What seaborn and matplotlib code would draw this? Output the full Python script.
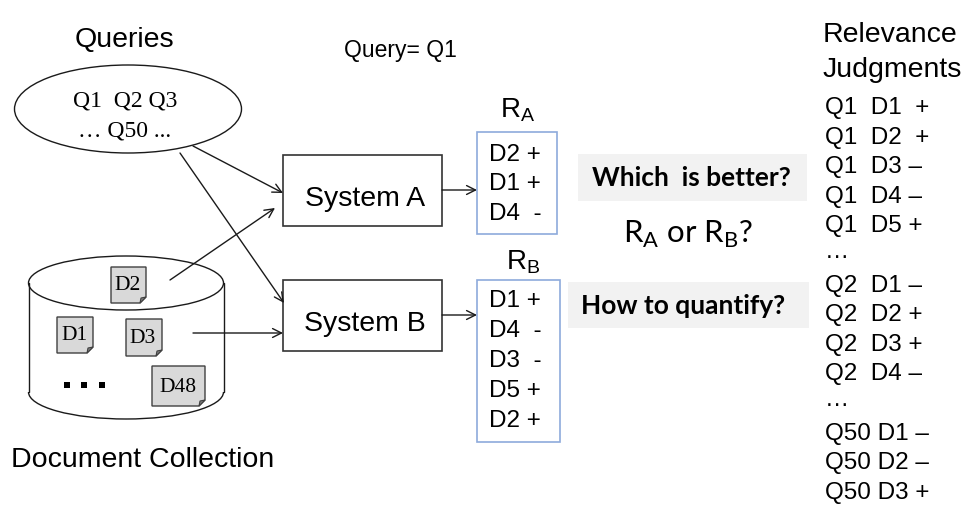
import numpy as np
import pandas as pd
import matplotlib
matplotlib.use("Agg")
import matplotlib.pyplot as plt
import seaborn as sns
from matplotlib.patches import Ellipse, Arc, Rectangle, Polygon

# -----------------------------------------------------------------
# diagram content
# -----------------------------------------------------------------
queries_title = "Queries"
query_lines = ["Q1  Q2 Q3", "\u2026 Q50 ..."]
query_now = "Query= Q1"
systems = ["System A", "System B"]
ra_docs = ["D2 +", "D1 +", "D4  -"]
rb_docs = ["D1 +", "D4  -", "D3  -", "D5 +", "D2 +"]
collection_docs = ["D2", "D1", "D3", "D48"]
collection_title = "Document Collection"
question_1 = "Which  is better?"
question_2 = "How to quantify?"
judg_title = ["Relevance", "Judgments"]
judgments = ["Q1  D1  +", "Q1  D2  +", "Q1  D3 \u2013", "Q1  D4 \u2013", "Q1  D5 +",
             "\u2026",
             "Q2  D1 \u2013", "Q2  D2 +", "Q2  D3 +", "Q2  D4 \u2013",
             "\u2026",
             "Q50 D1 \u2013", "Q50 D2 \u2013", "Q50 D3 +"]

sns.set_theme(style="white")
plt.rcParams['font.family'] = ['Liberation Sans', 'DejaVu Sans']
plt.rcParams['text.color'] = 'black'
plt.rcParams['mathtext.fontset'] = 'custom'
plt.rcParams['mathtext.rm'] = 'Liberation Sans'
plt.rcParams['mathtext.sf'] = 'Lato'

SANS = ['Liberation Sans', 'DejaVu Sans']
SERIF = ['Liberation Serif', 'DejaVu Serif']
CAL = ['Lato', 'DejaVu Sans']

fig = plt.figure(figsize=(9.74, 5.12), dpi=100)
ax = fig.add_axes([0, 0, 1, 1])

def arrow(x0, y0, x1, y1):
    ax.annotate("", xy=(x1, y1), xytext=(x0, y0),
                arrowprops=dict(arrowstyle='->', lw=1.0, color='#1a1a1a',
                                mutation_scale=16, shrinkA=0, shrinkB=0))

# --- dots inside the collection (drawn first, seaborn resets limits) ---
dots = pd.DataFrame({"x": [67, 84, 102], "y": [385, 385, 385]})
sns.scatterplot(data=dots, x="x", y="y", marker='s', s=24, color='black',
                linewidth=0, ax=ax, legend=False)
ax.set_xlim(0, 974)
ax.set_ylim(512, 0)
ax.axis('off')

# --- queries ---
ax.text(124, 40, queries_title, fontsize=20.5, family=SANS, ha='center', va='center')
ax.add_patch(Ellipse((128, 109), 227, 88, fill=False, ec='#1a1a1a', lw=1))
ax.text(125, 101, query_lines[0], fontsize=17, family=SERIF, ha='center', va='center')
ax.text(125, 131, query_lines[1], fontsize=17, family=SERIF, ha='center', va='center')
ax.text(400, 50, query_now, fontsize=16.5, family=SANS, ha='center', va='center')

# --- systems ---
sys_y = [155, 280]
for name, y in zip(systems, sys_y):
    ax.add_patch(Rectangle((283, y), 159, 71, fill=False, ec='#333333', lw=1.2))
    ax.text(365, y + 44, name, fontsize=20.5, family=SANS, ha='center', va='center')
    arrow(442, y + 35, 477, y + 35)

# --- document collection (cylinder) ---
cx, w, h = 126, 195, 54
ax.add_patch(Ellipse((cx, 283), w, h, fill=False, ec='#1a1a1a', lw=1))
ax.plot([cx - w / 2, cx - w / 2], [283, 392], color='#1a1a1a', lw=1)
ax.plot([cx + w / 2, cx + w / 2], [283, 392], color='#1a1a1a', lw=1)
ax.add_patch(Arc((cx, 392), w, h, theta1=0, theta2=180, ec='#1a1a1a', lw=1))

doc_boxes = [(111, 267, 35, 36), (57, 317, 36, 36), (126, 319, 36, 37), (152, 366, 53, 40)]
for lab, (x0, y0, bw, bh) in zip(collection_docs, doc_boxes):
    f = 6
    x1, y1 = x0 + bw, y0 + bh
    ax.add_patch(Polygon([(x0, y0), (x1, y0), (x1, y1 - f), (x1 - f, y1), (x0, y1)],
                         closed=True, fc='#d9d9d9', ec='#404040', lw=1))
    ax.add_patch(Polygon([(x1, y1 - f), (x1 - f, y1), (x1 - f + 1, y1 - f + 1)],
                         closed=True, fc='#808080', ec='#404040', lw=0.8))
    ax.text(x0 + bw / 2 - 1, y0 + bh / 2 + 1, lab, fontsize=15.5, family=SERIF,
            ha='center', va='center')

ax.text(143, 460, collection_title, fontsize=20.5, family=SANS, ha='center', va='center')

# --- arrows into systems ---
arrow(193, 146, 283, 193)
arrow(180, 153, 284, 303)
arrow(170, 280, 275, 208)
arrow(193, 333, 283, 333)

# --- result lists ---
ax.add_patch(Rectangle((477, 132), 80, 102, fill=False, ec='#8eaadb', lw=1.2))
ax.add_patch(Rectangle((477, 280), 83, 162, fill=False, ec='#8eaadb', lw=1.2))
ax.text(518, 110, r"R$_\mathrm{A}$", fontsize=20, family=SANS, ha='center', va='center')
ax.text(523, 262, r"R$_\mathrm{B}$", fontsize=20, family=SANS, ha='center', va='center')
for i, d in enumerate(ra_docs):
    ax.text(489, 155 + i * 29.5, d, fontsize=17.5, family=SANS, ha='left', va='center')
for i, d in enumerate(rb_docs):
    ax.text(489, 301 + i * 30, d, fontsize=17.5, family=SANS, ha='left', va='center')

# --- questions ---
ax.add_patch(Rectangle((578, 154), 229, 47, fc='#f2f2f2', ec='none'))
ax.text(691, 178, question_1, fontsize=19, family=CAL, weight='bold', ha='center', va='center')
ax.text(688, 234, r"R$_\mathsf{A}$ or R$_\mathsf{B}$?", fontsize=22.5, family=CAL,
        ha='center', va='center')
ax.add_patch(Rectangle((568, 282), 241, 46, fc='#f2f2f2', ec='none'))
ax.text(683, 306, question_2, fontsize=19, family=CAL, weight='bold', ha='center', va='center')

# --- relevance judgments ---
ax.text(823, 35, judg_title[0], fontsize=20.5, family=SANS, ha='left', va='center')
ax.text(823, 70, judg_title[1], fontsize=20.5, family=SANS, ha='left', va='center')
for i, j in enumerate(judgments):
    yy = 108 + i * 29.6
    ax.text(825, yy - (4 if j == "\u2026" else 0), j, fontsize=17.5, family=SANS,
            ha='left', va='center')

fig.savefig("out.png", dpi=100)
